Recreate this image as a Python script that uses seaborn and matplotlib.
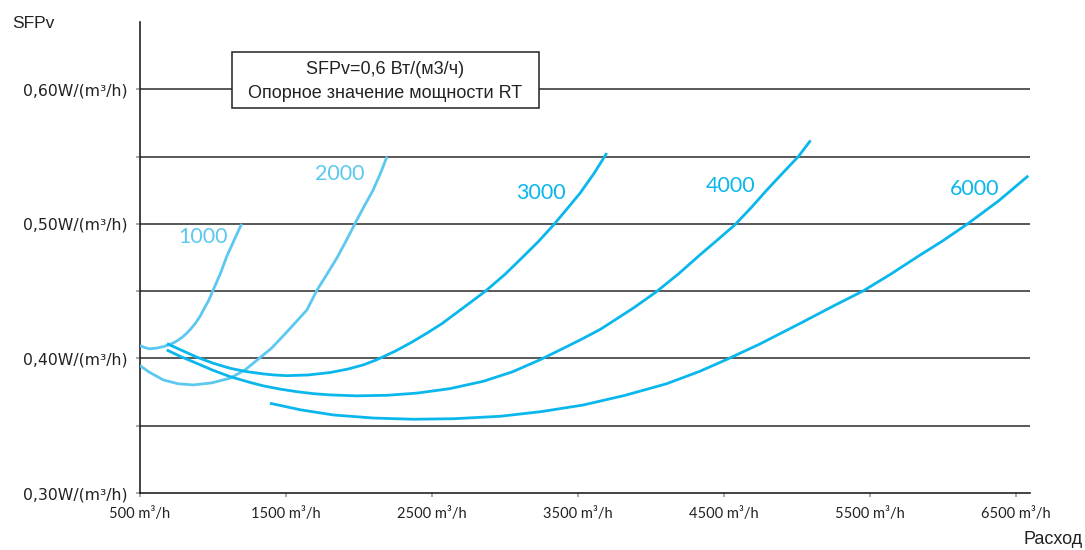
import numpy as np
import pandas as pd
import matplotlib
matplotlib.use("Agg")
import matplotlib.pyplot as plt
from matplotlib.patches import Rectangle
import seaborn as sns

# Airflow (m3/h) and specific fan power (W/(m3/h)) for each unit size
flow_1000 = [500, 540, 568, 620, 660, 694, 730, 760, 790, 820, 850, 880, 910, 934, 970, 1002,
             1050, 1094, 1145, 1196]
sfp_1000 = [0.4095, 0.4078, 0.4071, 0.4078, 0.4088, 0.4100, 0.4116, 0.4135, 0.4158, 0.4187,
            0.4222, 0.4262, 0.4310, 0.4360, 0.4430, 0.4510, 0.4630, 0.4757, 0.4880, 0.5000]

flow_2000 = [500, 560, 660, 760, 865, 990, 1116, 1220, 1310, 1400, 1500, 1580, 1643, 1711,
             1780, 1849, 1910, 1967, 2030, 2096, 2145, 2192]
sfp_2000 = [0.3947, 0.3900, 0.3840, 0.3812, 0.3803, 0.3818, 0.3853, 0.3915, 0.3995, 0.4075,
            0.4190, 0.4285, 0.4360, 0.4505, 0.4625, 0.4747, 0.4870, 0.4990, 0.5120, 0.5250,
            0.5370, 0.5500]

flow_3000 = [685, 790, 888, 1000, 1116, 1230, 1345, 1420, 1505, 1650, 1801, 1920, 2030, 2121,
             2250, 2360, 2464, 2570, 2700, 2863, 3000, 3125, 3230, 3331, 3420, 3514, 3610, 3697]
sfp_3000 = [0.4110, 0.4058, 0.4010, 0.3965, 0.3927, 0.3902, 0.3885, 0.3877, 0.3872, 0.3877,
            0.3895, 0.3920, 0.3952, 0.3990, 0.4055, 0.4120, 0.4187, 0.4260, 0.4365, 0.4497,
            0.4625, 0.4757, 0.4870, 0.4990, 0.5105, 0.5228, 0.5375, 0.5526]

flow_4000 = [683, 780, 888, 1000, 1116, 1253, 1345, 1460, 1573, 1690, 1801, 1984, 2190, 2395,
             2620, 2851, 3050, 3240, 3377, 3520, 3651, 3719, 3880, 4039, 4190, 4336, 4460,
             4575, 4690, 4792, 4900, 5009, 5093]
sfp_4000 = [0.4063, 0.4013, 0.3964, 0.3912, 0.3865, 0.3822, 0.3796, 0.3772, 0.3753, 0.3738,
            0.3729, 0.3722, 0.3726, 0.3742, 0.3775, 0.3830, 0.3900, 0.3990, 0.4063, 0.4140,
            0.4215, 0.4262, 0.4375, 0.4497, 0.4630, 0.4770, 0.4885, 0.4993, 0.5125, 0.5250,
            0.5375, 0.5500, 0.5620]

flow_6000 = [1390, 1600, 1824, 2100, 2372, 2650, 2966, 3250, 3536, 3820, 4107, 4336, 4518,
             4747, 5021, 5250, 5454, 5640, 5820, 6000, 6162, 6380, 6584]
sfp_6000 = [0.3667, 0.3618, 0.3580, 0.3557, 0.3548, 0.3552, 0.3570, 0.3605, 0.3654, 0.3725,
            0.3812, 0.3905, 0.3992, 0.4108, 0.4260, 0.4390, 0.4502, 0.4625, 0.4752, 0.4875,
            0.4995, 0.5170, 0.5357]

sizes = ["1000", "2000", "3000", "4000", "6000"]
label_x = [932, 1870, 3247, 4548, 6219]
label_y = [0.490, 0.537, 0.523, 0.528, 0.526]

y_ticks = [0.30, 0.40, 0.50, 0.60]
y_tick_labels = ["0,30W/(m\u00b3/h)", "0,40W/(m\u00b3/h)", "0,50W/(m\u00b3/h)", "0,60W/(m\u00b3/h)"]
y_grid = [0.35, 0.40, 0.45, 0.50, 0.55, 0.60]
x_ticks = [500, 1500, 2500, 3500, 4500, 5500, 6500]
x_tick_labels = [f"{v} m\u00b3/h" for v in x_ticks]

note_lines = ["SFPv=0,6 Вт/(м3/ч)", "Опорное значение мощности RT"]

light_blue = "#5cc8f0"
strong_blue = "#0ab7ec"
palette = {"1000": light_blue, "2000": light_blue,
           "3000": strong_blue, "4000": strong_blue, "6000": strong_blue}

flows = [flow_1000, flow_2000, flow_3000, flow_4000, flow_6000]
sfps = [sfp_1000, sfp_2000, sfp_3000, sfp_4000, sfp_6000]
df = pd.concat(
    [pd.DataFrame({"flow": f, "sfp": s, "size": name}) for f, s, name in zip(flows, sfps, sizes)],
    ignore_index=True,
)

sns.set_style("white")
plt.rcParams["font.family"] = ["Liberation Sans", "DejaVu Sans"]

fig = plt.figure(figsize=(10.85, 5.5), dpi=100)
ax = fig.add_axes([140 / 1085, 57 / 550, 890 / 1085, 471 / 550])

for y in y_grid:
    ax.axhline(y, color="#2b2b2b", lw=1.1, zorder=1)

sns.lineplot(data=df, x="flow", y="sfp", hue="size", palette=palette, sort=False,
             estimator=None, lw=2.0, legend=False, ax=ax, zorder=3)
for line in ax.get_lines():
    line.set_solid_joinstyle("round")
    line.set_solid_capstyle("butt")

for name, lx, ly in zip(sizes, label_x, label_y):
    ax.text(lx, ly, name, color=palette[name], fontsize=15.5, family="Lato",
            ha="center", va="center")

ax.set_xlim(500, 6596)
ax.set_ylim(0.30, 0.65)

ax.set_yticks(y_ticks)
ax.set_yticklabels(y_tick_labels, family="DejaVu Sans", fontsize=11.3, color="#222222")
ax.set_yticks([0.35, 0.45, 0.55], minor=True)
ax.set_xticks(x_ticks)
ax.set_xticklabels(x_tick_labels, family="Lato", fontsize=10.5, color="#222222")
ax.tick_params(axis="y", which="both", direction="out", length=3, width=1.2,
               color="#999999", left=True, pad=6)
ax.tick_params(axis="x", direction="out", length=3, width=1.2, color="#999999",
               bottom=True, pad=7)
ax.set_xlabel("")
ax.set_ylabel("")

for side in ["top", "right"]:
    ax.spines[side].set_visible(False)
ax.spines["left"].set_color("#222222")
ax.spines["bottom"].set_color("#222222")
ax.spines["left"].set_linewidth(1.2)
ax.spines["bottom"].set_linewidth(1.2)

# Reference value box (white panel over the 0.60 gridline)
box_x0, box_x1 = 1130, 3233
box_y0, box_y1 = 0.586, 0.628
ax.add_patch(Rectangle((box_x0, box_y0), box_x1 - box_x0, box_y1 - box_y0,
                       facecolor="white", edgecolor="#222222", lw=1.1, zorder=5))
ax.text((box_x0 + box_x1) / 2, (box_y0 + box_y1) / 2 - 0.001, "\n".join(note_lines),
        ha="center", va="center", fontsize=13, color="#222222", linespacing=1.55, zorder=6)

fig.text(12 / 1085, 1 - 24 / 550, "SFPv", fontsize=12.5, color="#222222", va="center")
fig.text(1083 / 1085, 1 - 540 / 550, "Расход", fontsize=13, color="#222222",
         va="center", ha="right")

fig.savefig("out.png", dpi=100)
